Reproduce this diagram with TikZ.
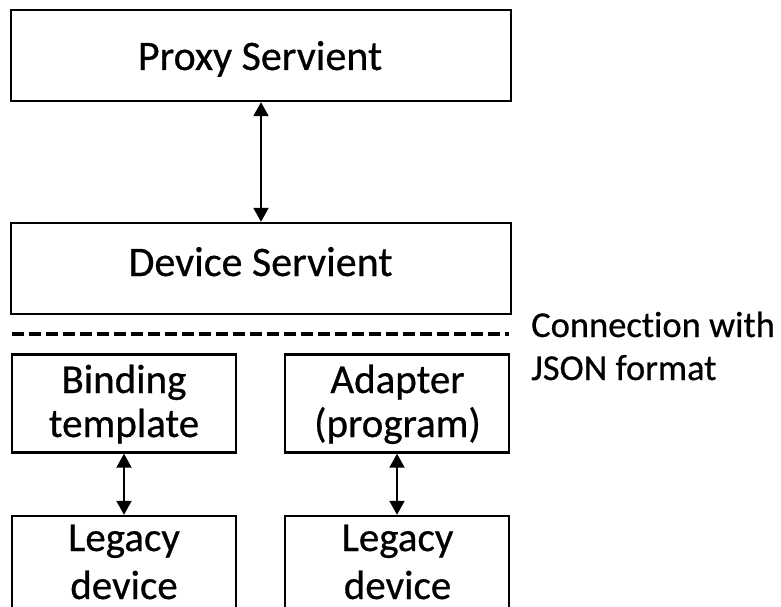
\documentclass[tikz,border=0pt]{standalone}
\usepackage{fontspec}
\setmainfont{Carlito}[Ligatures={NoCommon},FakeBold=0.6]
\usetikzlibrary{arrows.meta}
\begin{document}
\begin{tikzpicture}[x=1pt,y=-1pt,
  box/.style={draw=black,line width=2.4pt,inner sep=0pt,outer sep=0pt,rectangle},
  lbl/.style={anchor=base,inner sep=0pt,font=\fontsize{41}{49}\selectfont},
  biglbl/.style={lbl,font=\fontsize{42}{50}\selectfont},
  side/.style={anchor=base west,inner sep=0pt,font=\fontsize{36.5}{44}\selectfont},
  link/.style={line width=2pt,{Triangle[length=14pt,width=15pt]}-{Triangle[length=14pt,width=15pt]}}]
\useasboundingbox (0,0) rectangle (781,607);

% main servients
\node[box,minimum width=500pt,minimum height=91pt] (proxy) at (261,55.5) {};
\node[box,minimum width=500pt,minimum height=91pt] (device) at (261,268.5) {};
\node[biglbl] (proxyT) at (260,70) {Proxy Servient};
\node[biglbl] (deviceT) at (260.5,276) {Device Servient};

% separator for the JSON connection
\coordinate (sepL) at (12,334);
\coordinate (sepR) at (509,334);
\draw[line width=3.5pt,dash pattern=on 12pt off 5pt] (sepL) -- (sepR);
\node[side] (conn1) at (531,337) {Connection with};
\node[side] (conn2) at (531,380) {JSON format};

% binding template / adapter
\node[box,minimum width=224pt,minimum height=98pt] (binding) at (124,403.5) {};
\node[box,minimum width=224pt,minimum height=98pt] (adapter) at (397,403.5) {};
\node[lbl] (bindT1) at (124,393) {Binding};
\node[lbl] (bindT2) at (124,437) {template};
\node[lbl] (adapT1) at (397.5,393) {Adapter};
\node[lbl] (adapT2) at (397.5,437) {(program)};

% legacy devices
\node[box,minimum width=224pt,minimum height=110pt] (legacyA) at (124,571) {};
\node[box,minimum width=224pt,minimum height=110pt] (legacyB) at (397,571) {};
\node[lbl] (legA1) at (124,551) {Legacy};
\node[lbl] (legA2) at (124,599) {device};
\node[lbl] (legB1) at (397.5,551) {Legacy};
\node[lbl] (legB2) at (397.5,599) {device};

% connectors
\draw[link] ([yshift=-1.2pt]proxy.south) -- ([yshift=1.2pt]device.north);
\draw[link] ([yshift=-1.2pt]binding.south) -- ([yshift=1.2pt]legacyA.north);
\draw[link] ([yshift=-1.2pt]adapter.south) -- ([yshift=1.2pt]legacyB.north);
\end{tikzpicture}
\end{document}
